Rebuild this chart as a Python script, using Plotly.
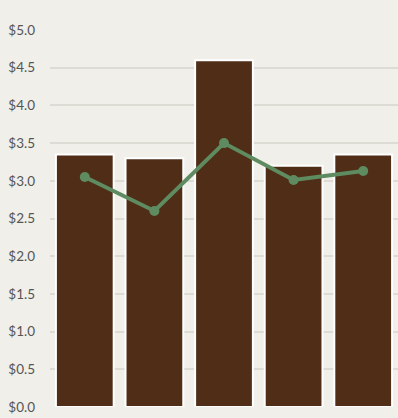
import plotly.graph_objects as go

categories = ["A", "B", "C", "D", "E"]
bar_values = [3.35, 3.30, 4.60, 3.20, 3.35]
line_values = [3.05, 2.60, 3.50, 3.01, 3.13]
y_ticks = [0, 0.5, 1, 1.5, 2, 2.5, 3, 3.5, 4, 4.5, 5]
y_labels = ["$%.1f" % v for v in y_ticks]

fig = go.Figure()
fig.add_trace(go.Bar(
    x=categories, y=bar_values,
    marker=dict(color="#4f2d17", line=dict(color="#ffffff", width=2)),
))
fig.add_trace(go.Scatter(
    x=categories, y=line_values, mode="lines+markers",
    line=dict(color="#5e8b60", width=4),
    marker=dict(color="#5e8b60", size=10),
))
fig.update_layout(
    width=398, height=418,
    margin=dict(l=50, r=0, t=30, b=11),
    paper_bgcolor="#f0efe9", plot_bgcolor="#f0efe9",
    showlegend=False, bargap=0.17,
    font=dict(family="Lato", size=13.5, color="#555555"),
    xaxis=dict(showticklabels=False, showgrid=False, zeroline=False, ticks=""),
    yaxis=dict(range=[0, 5], tickvals=y_ticks, ticktext=y_labels,
               showgrid=True, gridcolor="#dcdbd4", gridwidth=1.5,
               zeroline=False, ticks="", ticklabelstandoff=14),
)
fig.write_html("out.html", config={"displayModeBar": False},
               post_script="document.body.style.margin='0';document.body.style.background='#f0efe9';")
